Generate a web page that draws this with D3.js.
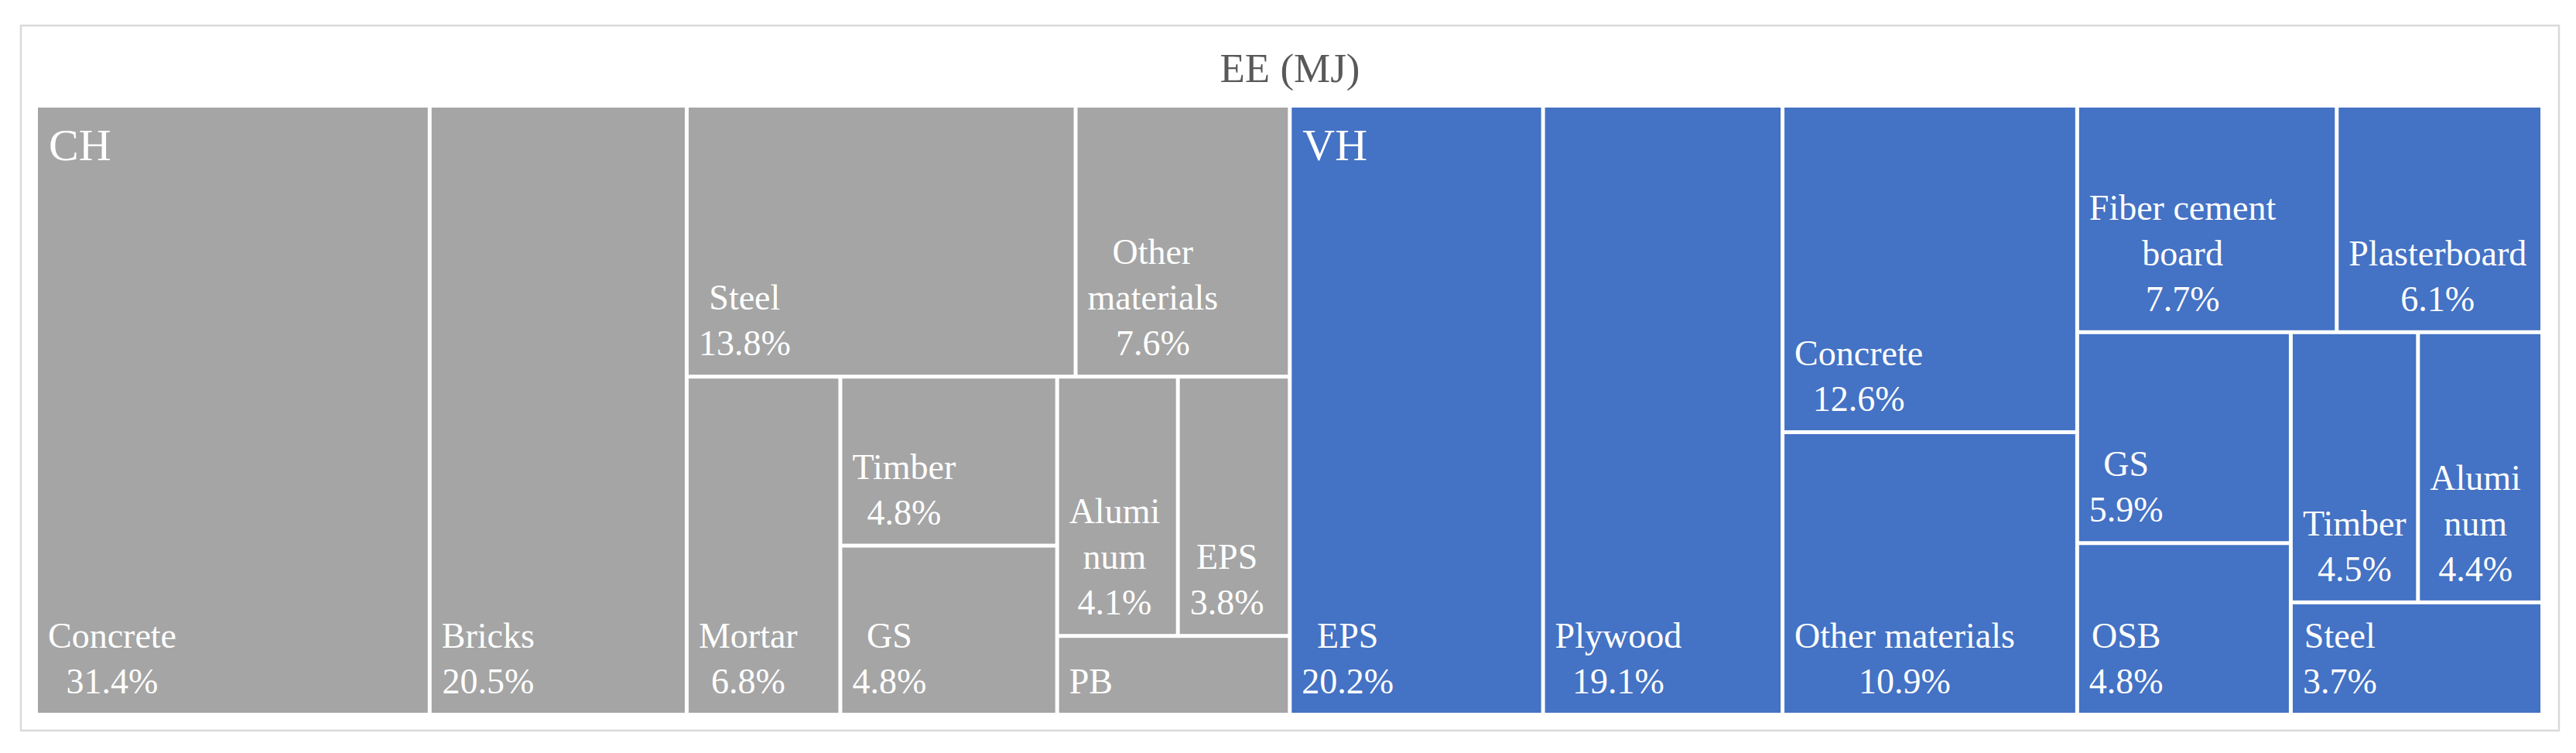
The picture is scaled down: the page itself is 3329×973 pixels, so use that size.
<!DOCTYPE html>
<html><head><meta charset="utf-8">
<script src="https://cdn.jsdelivr.net/npm/d3@7"></script>
<style>html,body{margin:0;padding:0;background:#fff;} svg{display:block;}</style>
</head><body>
<svg id="chart" width="3329" height="973"></svg>
<script>
// ---------- data ----------
const chartTitle = "EE (MJ)";
const groups = ["CH", "VH"];
const chMaterials = ["Concrete", "Bricks", "Steel", "Other materials", "Mortar", "Timber", "GS", "Aluminum", "EPS", "PB"];
const chShares    = [31.4, 20.5, 13.8, 7.6, 6.8, 4.8, 4.8, 4.1, 3.8, 2.4];
const vhMaterials = ["EPS", "Plywood", "Concrete", "Other materials", "Fiber cement board", "Plasterboard", "GS", "OSB", "Timber", "Aluminum", "Steel"];
const vhShares    = [20.2, 19.1, 12.6, 10.9, 7.7, 6.1, 5.9, 4.8, 4.5, 4.4, 3.7];
const groupColors = ["#A5A5A5", "#4472C4"];

// ---------- layout constants ----------
const W = 3329, H = 973;
const frame = {x: 27, y: 33, w: 3280, h: 911};
const area = {x: 49, y: 139, w: 3234, h: 782};
const FONT = '"Liberation Serif", "Times New Roman", serif';
const LABEL_SIZE = 46, LINE_H = 59, GROUP_SIZE = 58, TITLE_SIZE = 53;
const TALL = 1.27; // preferred height/width ratio of cells (Excel-like squarify)

const svg = d3.select("#chart");

svg.append("rect").attr("x", frame.x).attr("y", frame.y).attr("width", frame.w).attr("height", frame.h)
  .attr("fill", "#fff").attr("stroke", "#D9D9D9").attr("stroke-width", 2.5);

svg.append("text").attr("x", frame.x + frame.w / 2).attr("y", 106)
  .attr("text-anchor", "middle").attr("font-family", FONT).attr("font-size", TITLE_SIZE)
  .attr("fill", "#595959").text(chartTitle);

// ---------- hierarchy ----------
const materials = [chMaterials, vhMaterials];
const shares = [chShares, vhShares];
const data = {
  name: "root",
  children: groups.map((g, i) => ({
    name: g, gi: i,
    children: materials[i].map((m, j) => ({name: m, gi: i, value: shares[i][j]}))
  }))
};
const root = d3.hierarchy(data).sum(d => d.value || 0);

// Squarified tiling: strip orientation from the real rectangle, cell cost
// measured against a preferred height/width ratio TALL.
function excelTile(parent, x0, y0, x1, y1) {
  const nodes = parent.children, n = nodes.length;
  let value = parent.value, i0 = 0;
  while (i0 < n) {
    const dx = x1 - x0, dy = y1 - y0;
    const rowAcross = dx < dy;
    const cost = (a, b) => {
      let s = 0;
      for (let i = a; i < b; i++) s += nodes[i].value;
      let worst = 0;
      for (let i = a; i < b; i++) {
        let r;
        if (rowAcross) { const t = dy * s / value, w = dx * nodes[i].value / s; r = (t / w) / TALL; }
        else { const t = dx * s / value, h = dy * nodes[i].value / s; r = (h / t) / TALL; }
        worst = Math.max(worst, r, 1 / r);
      }
      return worst;
    };
    let i1 = i0 + 1, best = cost(i0, i1);
    while (i1 < n) {
      const c = cost(i0, i1 + 1);
      if (c > best) break;
      best = c; i1++;
    }
    const kids = nodes.slice(i0, i1);
    const s = d3.sum(kids, k => k.value);
    const last = i1 >= n;
    const row = {children: kids, value: s};
    if (rowAcross) {
      const yy = last ? y1 : y0 + dy * s / value;
      d3.treemapDice(row, x0, y0, x1, yy); y0 = yy;
    } else {
      const xx = last ? x1 : x0 + dx * s / value;
      d3.treemapSlice(row, x0, y0, xx, y1); x0 = xx;
    }
    value -= s; i0 = i1;
  }
}
d3.treemap().tile(excelTile).size([area.w, area.h]).paddingInner(5)(root);

const g = svg.append("g").attr("transform", `translate(${area.x},${area.y})`);

g.selectAll("rect.leaf").data(root.leaves()).join("rect").attr("class", "leaf")
  .attr("x", d => d.x0).attr("y", d => d.y0)
  .attr("width", d => d.x1 - d.x0).attr("height", d => d.y1 - d.y0)
  .attr("fill", d => groupColors[d.data.gi]);

// ---------- labels ----------
const ctx = document.createElement("canvas").getContext("2d");
ctx.font = `${LABEL_SIZE}px ${FONT}`;
const mw = s => ctx.measureText(s).width;

function wrap(text, maxW) {
  const words = text.split(" ");
  const lines = [];
  let cur = "";
  for (const w of words) {
    const test = cur ? cur + " " + w : w;
    if (mw(test) <= maxW) { cur = test; continue; }
    if (cur) { lines.push(cur); cur = ""; }
    let word = w;
    while (mw(word) > maxW && word.length > 1) {
      let k = word.length - 1;
      while (k > 1 && mw(word.slice(0, k)) > maxW) k--;
      lines.push(word.slice(0, k));
      word = word.slice(k);
    }
    cur = word;
  }
  if (cur) lines.push(cur);
  return lines;
}

root.leaves().forEach(d => {
  const w = d.x1 - d.x0, h = d.y1 - d.y0;
  let lines = wrap(d.data.name, w - 22).concat([d.value.toFixed(1) + "%"]);
  const maxLines = Math.max(1, Math.floor((h - 20) / LINE_H));
  lines = lines.slice(0, maxLines);
  const bw = d3.max(lines, mw);
  const cx = d.x0 + 13 + bw / 2;
  const n = lines.length;
  const t = g.append("text").attr("font-family", FONT).attr("font-size", LABEL_SIZE)
    .attr("fill", "#fff").attr("text-anchor", "middle");
  lines.forEach((s, i) => {
    t.append("tspan").attr("x", cx).attr("y", d.y1 - 25 - (n - 1 - i) * LINE_H).text(s);
  });
});

root.children.forEach(d => {
  g.append("text").attr("x", d.x0 + 14).attr("y", d.y0 + 68)
    .attr("font-family", FONT).attr("font-size", GROUP_SIZE).attr("fill", "#fff")
    .text(d.data.name);
});
</script>
</body></html>
